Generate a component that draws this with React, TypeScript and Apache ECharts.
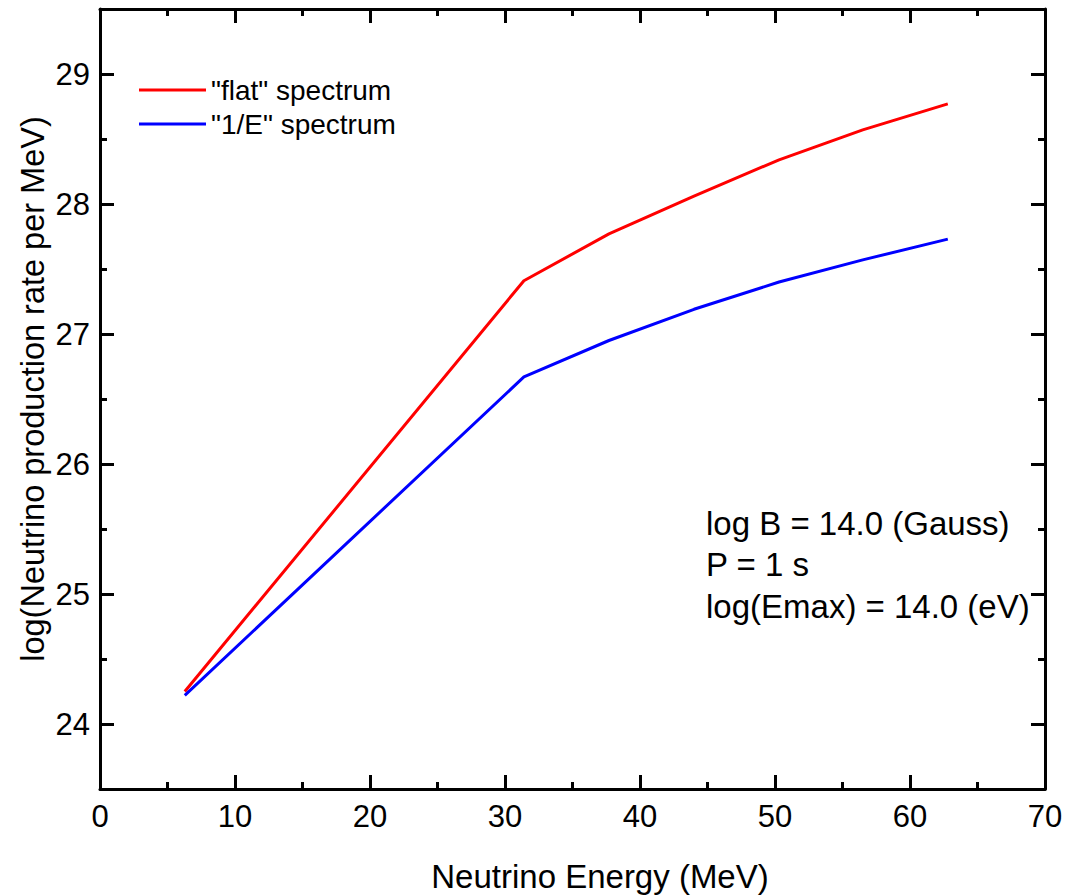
import React, { useEffect, useRef } from "react";
import * as echarts from "echarts";

const energies = [6.28, 31.4, 37.7, 44.0, 50.3, 56.5, 62.8];
const flatSpectrum = [24.25, 27.41, 27.77, 28.06, 28.34, 28.57, 28.77];
const invESpectrum = [24.22, 26.67, 26.95, 27.19, 27.4, 27.57, 27.73];
const seriesNames = ['"flat" spectrum', '"1/E" spectrum'];
const yMajorTicks = [24, 25, 26, 27, 28, 29];
const yMinorTicks = [24.5, 25.5, 26.5, 27.5, 28.5];
const annotationLines = ["log B = 14.0 (Gauss)", "P = 1 s", "log(Emax) = 14.0 (eV)"];
const xTitle = "Neutrino Energy (MeV)";
const yTitle = "log(Neutrino production rate per MeV)";

const FONT = '"Liberation Sans", Arial, Helvetica, sans-serif';

export default function App() {
  const ref = useRef<HTMLDivElement>(null);
  useEffect(() => {
    if (!ref.current) return;
    const chart = echarts.init(ref.current, null, { renderer: "svg" });
    const axisLineStyle = () => ({ color: "#000000", width: 3, opacity: 1 });
    const tickStyle = () => ({ color: "#000000", width: 3, opacity: 1 });
    const yAxisBase = (position: string, ticks: number[], len: number, labels: boolean, line: boolean) => ({
      type: "value",
      min: 23.5,
      max: 29.5,
      position,
      axisLine: { show: line, onZero: false, lineStyle: axisLineStyle() },
      axisTick: { show: true, inside: true, length: len, customValues: ticks, lineStyle: tickStyle() },
      axisLabel: labels
        ? { show: true, customValues: yMajorTicks, fontSize: 31, color: "#000", fontFamily: FONT, margin: 10 }
        : { show: false },
      splitLine: { show: false },
    });
    const xAxisBase = (position: string, labels: boolean) => ({
      type: "value",
      min: 0,
      max: 70,
      interval: 10,
      position,
      axisLine: { show: true, onZero: false, lineStyle: axisLineStyle() },
      axisTick: { show: true, inside: true, length: 14, lineStyle: tickStyle() },
      minorTick: { show: true, splitNumber: 2, length: 7, lineStyle: tickStyle() },
      axisLabel: labels
        ? { show: true, fontSize: 31, color: "#000", fontFamily: FONT, margin: 12 }
        : { show: false },
      splitLine: { show: false },
    });
    chart.setOption({
      animation: false,
      backgroundColor: "#fff",
      grid: { left: 100, right: 23, top: 9, bottom: 107, containLabel: false },
      xAxis: [xAxisBase("bottom", true), xAxisBase("top", false)],
      yAxis: [
        yAxisBase("left", yMajorTicks, 14, true, true),
        yAxisBase("left", yMinorTicks, 7, false, false),
        yAxisBase("right", yMajorTicks, 14, false, true),
        yAxisBase("right", yMinorTicks, 7, false, false),
      ],
      legend: {
        left: 134,
        top: 71,
        orient: "vertical",
        icon: "rect",
        itemWidth: 67,
        itemHeight: 3,
        itemGap: 6,
        textStyle: { fontSize: 28, color: "#000", fontFamily: FONT },
        data: seriesNames,
      },
      series: [
        {
          name: seriesNames[0],
          type: "line",
          xAxisIndex: 0,
          yAxisIndex: 0,
          symbol: "none",
          lineStyle: { color: "#ff0000", width: 3 },
          itemStyle: { color: "#ff0000" },
          data: energies.map((e, i) => [e, flatSpectrum[i]]),
        },
        {
          name: seriesNames[1],
          type: "line",
          xAxisIndex: 0,
          yAxisIndex: 0,
          symbol: "none",
          lineStyle: { color: "#0000ff", width: 3 },
          itemStyle: { color: "#0000ff" },
          data: energies.map((e, i) => [e, invESpectrum[i]]),
        },
      ],
      graphic: [
        {
          type: "text",
          x: 600,
          y: 876,
          style: { text: xTitle, fontSize: 33, fontFamily: FONT, fill: "#000", align: "center", verticalAlign: "middle" },
        },
        {
          type: "text",
          x: 33,
          y: 389,
          rotation: Math.PI / 2,
          style: { text: yTitle, fontSize: 32.5, fontFamily: FONT, fill: "#000", align: "center", verticalAlign: "middle" },
        },
        ...annotationLines.map((t, i) => ({
          type: "text",
          x: 706,
          y: 523 + i * 41.5,
          style: { text: t, fontSize: 33, fontFamily: FONT, fill: "#000", align: "left", verticalAlign: "middle" },
        })),
      ],
    });
    return () => chart.dispose();
  }, []);
  return <div ref={ref} style={{ position: "absolute", left: 0, top: 0, width: 1068, height: 896 }} />;
}
